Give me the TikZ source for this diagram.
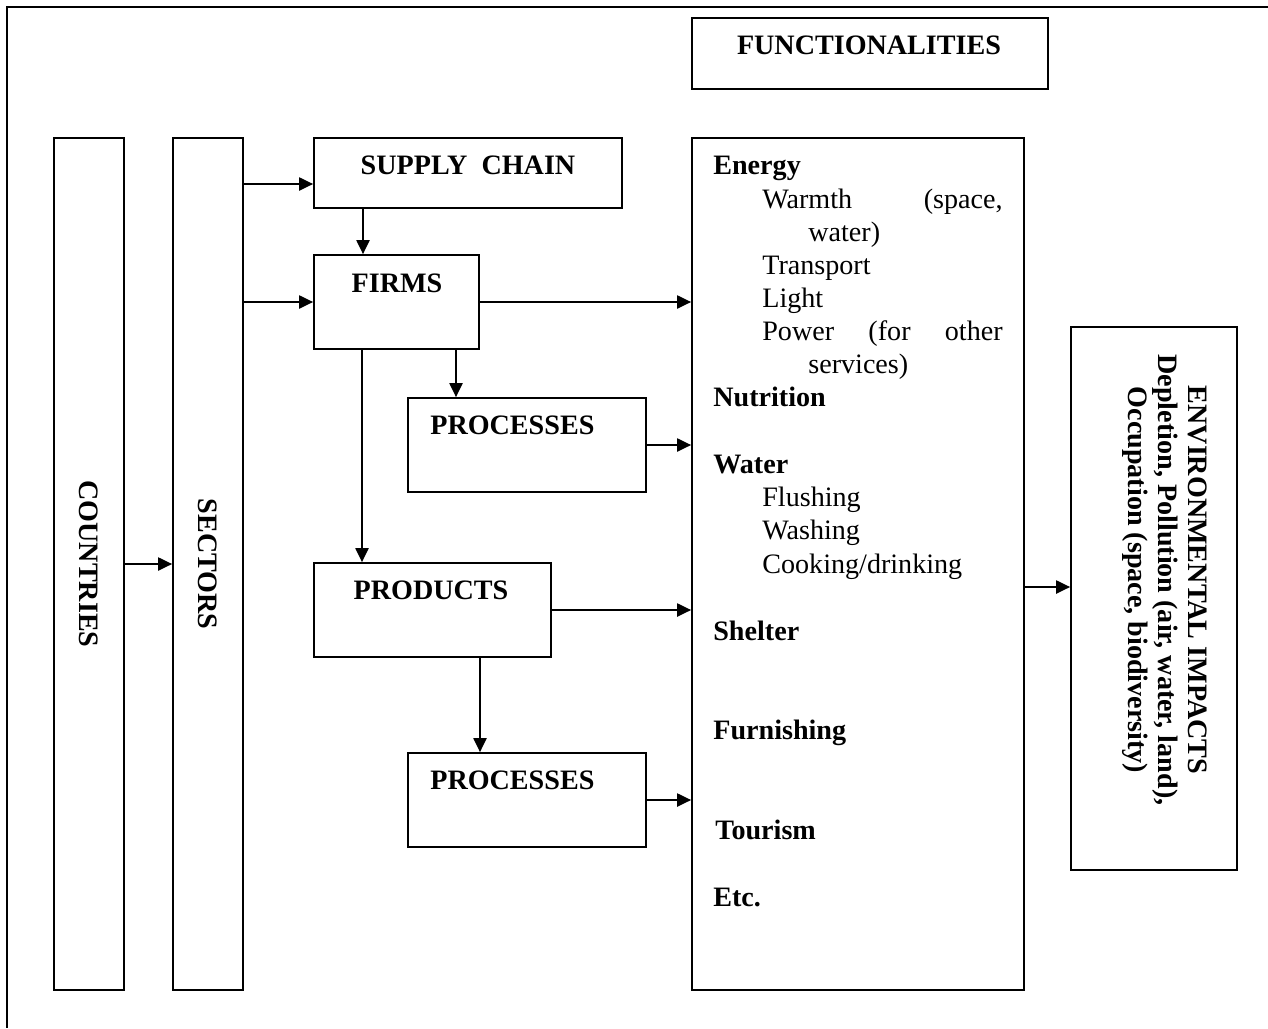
\documentclass[tikz,border=0pt]{standalone}
\usepackage{fontspec}
\setmainfont{Liberation Serif}
\usepackage{tikz}
\usetikzlibrary{arrows.meta}
\usetikzlibrary{fit}
\usetikzlibrary{positioning}
\newcommand{\figfont}{\fontsize{16}{19}\selectfont}
\tikzstyle{box} = [draw=black, line width=1pt, inner sep=0pt]
\tikzstyle{arrow} = [line width=1pt, -{Triangle[length=8pt,width=7.5pt]}]
\tikzstyle{title} = [anchor=base, inner sep=0pt, font=\figfont\bfseries]
\tikzstyle{item} = [anchor=base west, inner sep=0pt, font=\figfont]
\tikzstyle{head} = [item, font=\figfont\bfseries]

\begin{document}
\begin{tikzpicture}[x=0.02cm, y=-0.02cm]
                    \useasboundingbox (0,0) rectangle (1268,1028);
                    \draw [line width=1.7pt] (1268,7) -- (7,7) -- (7,1028);
                    % boxes
                    \node [box, fit={(54,138) (124,990)}] (countries) {};
                    \node [box, fit={(173,138) (243,990)}] (sectors) {};
                    \node [box, fit={(314,138) (622,208)}] (supply) {};
                    \node [box, fit={(314,255) (479,349)}] (firms) {};
                    \node [box, fit={(408,398) (646,492)}] (procA) {};
                    \node [box, fit={(314,563) (551,657)}] (products) {};
                    \node [box, fit={(408,753) (646,847)}] (procB) {};
                    \node [box, fit={(692,18) (1048,89)}] (functitle) {};
                    \node [box, fit={(692,138) (1024,990)}] (func) {};
                    \node [box, fit={(1071,327) (1237,870)}] (env) {};
                    % box labels
                    \node [title, anchor=center, rotate=-90] (countrieslbl) at (countries) {COUNTRIES};
                    \node [title, anchor=center, rotate=-90] (sectorslbl) at (sectors) {SECTORS};
                    \node [title] (supplylbl) at (468,174) {SUPPLY\ \ CHAIN};
                    \node [title] (firmslbl) at (397,292) {FIRMS};
                    \node [title, anchor=base west] (procAlbl) at (430,434) {PROCESSES};
                    \node [title] (productslbl) at (431,599) {PRODUCTS};
                    \node [title, anchor=base west] (procBlbl) at (430,789) {PROCESSES};
                    \node [title] (functitlelbl) at (869,54) {FUNCTIONALITIES};
                    \node [title, anchor=center, rotate=-90, align=center] (envlbl) at (1165,580) {ENVIRONMENTAL IMPACTS\\[-2pt] Depletion, Pollution (air, water, land),\\[-2pt] Occupation (space, biodiversity)};
                    % functionalities
                    \node [head] (energy) at (713,174) {Energy};
                    \node [item] (warmth) at (762,208) {\makebox[136.8pt][l]{Warmth\hfill(space,}};
                    \node [item] (warmthb) at (808,241) {water)};
                    \node [item] (transport) at (762,274) {Transport};
                    \node [item] (light) at (762,307) {Light};
                    \node [item] (power) at (762,340) {\makebox[136.8pt][l]{Power\hfill(for\hfill other}};
                    \node [item] (powerb) at (808,373) {services)};
                    \node [head] (nutrition) at (713,406) {Nutrition};
                    \node [head] (water) at (713,473) {Water};
                    \node [item] (flushing) at (762,506) {Flushing};
                    \node [item] (washing) at (762,539) {Washing};
                    \node [item] (cooking) at (762,573) {Cooking/drinking};
                    \node [head] (shelter) at (713,640) {Shelter};
                    \node [head] (furnishing) at (713,739) {Furnishing};
                    \node [head] (tourism) at (715,839) {Tourism};
                    \node [head] (etc) at (713,906) {Etc.};
                    % arrows
                    \draw [arrow] (countries) -- (sectors);
                    \draw [arrow] (sectors.east |- 0,184) -- (supply.west |- 0,184);
                    \draw [arrow] (sectors.east |- firms) -- (firms);
                    \draw [arrow] (supply.south -| 363,0) -- (firms.north -| 363,0);
                    \draw [arrow] (firms.south -| 456,0) -- (procA.north -| 456,0);
                    \draw [arrow] (firms.south -| 362,0) -- (products.north -| 362,0);
                    \draw [arrow] (firms) -- (firms -| func.west);
                    \draw [arrow] (procA) -- (procA -| func.west);
                    \draw [arrow] (products) -- (products -| func.west);
                    \draw [arrow] (products.south -| 480,0) -- (procB.north -| 480,0);
                    \draw [arrow] (procB) -- (procB -| func.west);
                    \draw [arrow] (func.east |- 0,587) -- (env.west |- 0,587);
                \end{tikzpicture}
\end{document}
